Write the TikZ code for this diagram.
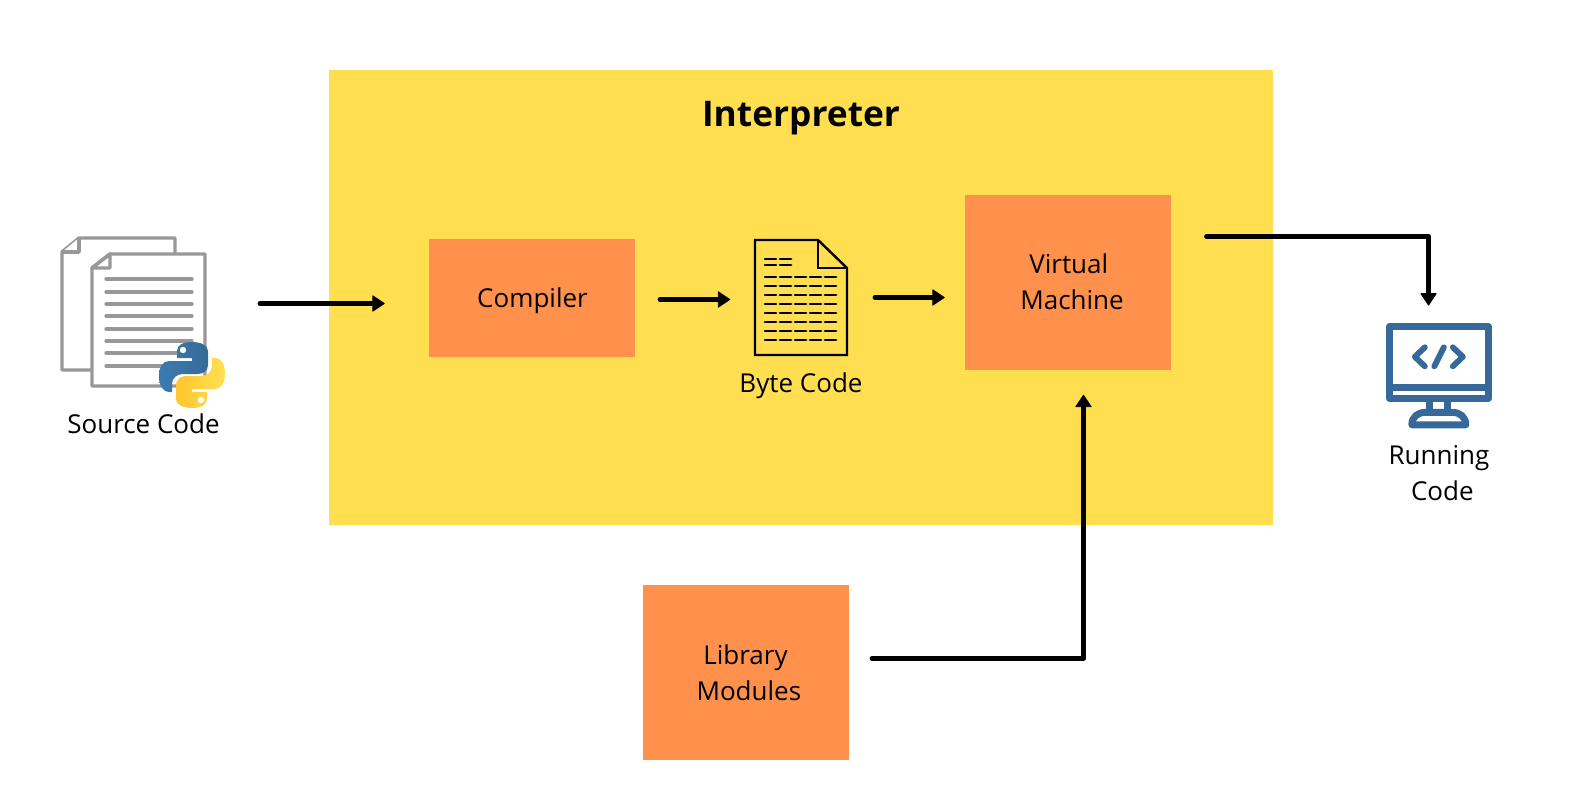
\documentclass[tikz,border=0pt]{standalone}
\usepackage{fontspec}
\setmainfont{Open Sans}
\usetikzlibrary{arrows.meta}
\definecolor{panel}{HTML}{FFDF50}
\definecolor{boxor}{HTML}{FF914D}
\definecolor{docgray}{HTML}{989898}
\definecolor{monblue}{HTML}{36699A}
\definecolor{pyblueA}{HTML}{3A7CB2}
\definecolor{pyblueB}{HTML}{366A96}
\definecolor{pyyelA}{HTML}{FFE052}
\definecolor{pyyelB}{HTML}{FFC62F}
\tikzset{
  panelbox/.style={fill=panel,inner sep=0pt,minimum width=707.6pt,minimum height=340.9pt},
  orangebox/.style={fill=boxor,inner sep=0pt,minimum width=154.5pt},
  lbl/.style={inner sep=0pt,align=center,font=\fontsize{19.5pt}{27pt}\selectfont},
  titlelbl/.style={inner sep=0pt,font=\fontsize{26.5pt}{32pt}\selectfont\bfseries},
  anchorbox/.style={inner sep=0pt,minimum width=#1},
  flow/.style={line width=3.3pt,-{Triangle[width=12.5pt,length=9.5pt,round,line width=0.6pt]},line join=round,line cap=round},
  pagegray/.style={draw=docgray,line width=2.6pt,line join=round,fill=white},
  textrule/.style={draw=docgray,line width=2.4pt,line cap=round},
  docblack/.style={draw=black,line width=1.8pt,line join=miter},
  dashrow/.style={draw=black,line width=2pt,line cap=round},
  monline/.style={draw=monblue,line width=5.2pt,line join=round},
  codeglyph/.style={draw=monblue,line width=4.4pt,line join=round,line cap=round},
}
\newcommand{\snakepath}{(192,342) .. controls (183,342) and (177,345) .. (177,351) -- (177,358) -- (192,358) -- (192,361) -- (169,361) .. controls (163,361) and (159,367) .. (159,376) .. controls (159,386) and (163,392) .. (169,392) -- (172,392) -- (172,384) .. controls (172,378) and (177,374) .. (183,374) -- (198,374) .. controls (204,374) and (208,370) .. (208,365) -- (208,351) .. controls (208,346) and (202,342) .. (192,342) -- cycle}
\begin{document}
\begin{tikzpicture}[x=0.75pt,y=-0.75pt]
\useasboundingbox (-0.5,-0.5) rectangle (1568.5,808.5);
% panels and boxes
\node[panelbox] (interp) at (800.5,297) {};
\node[titlelbl] (title) at (800.5,118) {Interpreter};
\node[orangebox,minimum height=88.5pt] (compiler) at (531.7,297) {};
\node[lbl] (compilerlbl) at (532,300) {Compiler};
\node[orangebox,minimum height=130.5pt] (vm) at (1067.5,282) {};
\node[lbl] (vmlbl) at (1067.5,281.25) {\hspace*{1.2pt}Virtual\\\hspace*{6pt}Machine};
\node[orangebox,minimum height=130.7pt] (lib) at (745,672) {};
\node[lbl] (liblbl) at (745,672) {\hspace*{1.5pt}Library\hspace*{1.5pt}\\\hspace*{5pt}Modules};
% source code icon
\node[anchorbox=123pt,minimum height=129pt] (source) at (143,323) {};
\begin{scope}[shift={(-0.5,-0.5)}]
\draw[pagegray] (79,238) -- (175,238) -- (175,370) -- (62,370) -- (62,252) -- cycle;
\draw[pagegray] (79,238) -- (79,252) -- (62,252);
\draw[pagegray] (110,254) -- (205,254) -- (205,386) -- (92,386) -- (92,268) -- cycle;
\draw[pagegray] (110,254) -- (110,268) -- (92,268) -- cycle;
\foreach \ya in {279,292,304,316,329,341,353,366}
  \draw[textrule] (106,\ya) -- (192,\ya);
\shade[left color=pyblueA,right color=pyblueB] \snakepath;
\fill[white] (183,350) circle[radius=3.2];
\begin{scope}[rotate around={180:(192,375)}]
\shade[left color=pyyelB,right color=pyyelA] \snakepath;
\fill[white] (183,350) circle[radius=3.2];
\end{scope}
\end{scope}
\node[lbl] (sourcelbl) at (143,423.5) {Source Code};
% byte code icon
\node[anchorbox=69pt,minimum height=86pt] (bytecode) at (801,297.5) {};
\begin{scope}[shift={(-0.5,-0.5)}]
\draw[docblack] (818,240) -- (755,240) -- (755,355) -- (847,355) -- (847,268) -- cycle;
\draw[docblack] (818,240) -- (818,268) -- (847,268);
\foreach \ya in {259,265}
  \foreach \xa/\xb in {765/776,780/791}
    \draw[dashrow] (\xa,\ya) -- (\xb,\ya);
\foreach \ya in {277,286,295,304,313,322,331,340}
  \foreach \xa/\xb in {765/776,780/791,795/806,810/821,825/836}
    \draw[dashrow] (\xa,\ya) -- (\xb,\ya);
\end{scope}
\node[lbl] (bytelbl) at (800.5,385) {Byte Code};
% monitor icon
\node[anchorbox=79.5pt,minimum height=79pt] (monitor) at (1439,376) {};
\begin{scope}[shift={(-0.7,-0.7)}]
\draw[monline,fill=white] (1389.5,326.5) rectangle (1488.5,398.5);
\draw[monline] (1389.5,387.5) -- (1488.5,387.5);
\draw[monline] (1430,400) -- (1430,412);
\draw[monline] (1448,400) -- (1448,412);
\draw[monline,fill=white] (1412,425) .. controls (1412,417) and (1418,412.5) .. (1426,412.5) -- (1452,412.5) .. controls (1460,412.5) and (1466,417) .. (1466,425) -- cycle;
\draw[codeglyph] (1425,347.5) -- (1415,357) -- (1425,366.5);
\draw[codeglyph] (1444,347.5) -- (1434.5,366.5);
\draw[codeglyph] (1453,347.5) -- (1463,357) -- (1453,366.5);
\end{scope}
\node[lbl] (runlbl) at (1440.5,473) {Running\hspace*{3pt}\\\hspace*{2pt}Code};
% connectors
\draw[flow] ([shift={(34,-20)}]source.east) -- ([shift={(-44.2,6)}]compiler.west);
\draw[flow] ([shift={(24.3,2)}]compiler.east) -- ([shift={(-25,1.5)}]bytecode.west);
\draw[flow] ([shift={(27,-0.5)}]bytecode.east) -- ([shift={(-20,15)}]vm.west);
\draw[flow] ([shift={(35,-46)}]vm.east) -| ([shift={(-11,-18)}]monitor.north);
\draw[flow] ([shift={(23,-14)}]lib.east) -| ([shift={(15.5,25)}]vm.south);
\end{tikzpicture}
\end{document}
